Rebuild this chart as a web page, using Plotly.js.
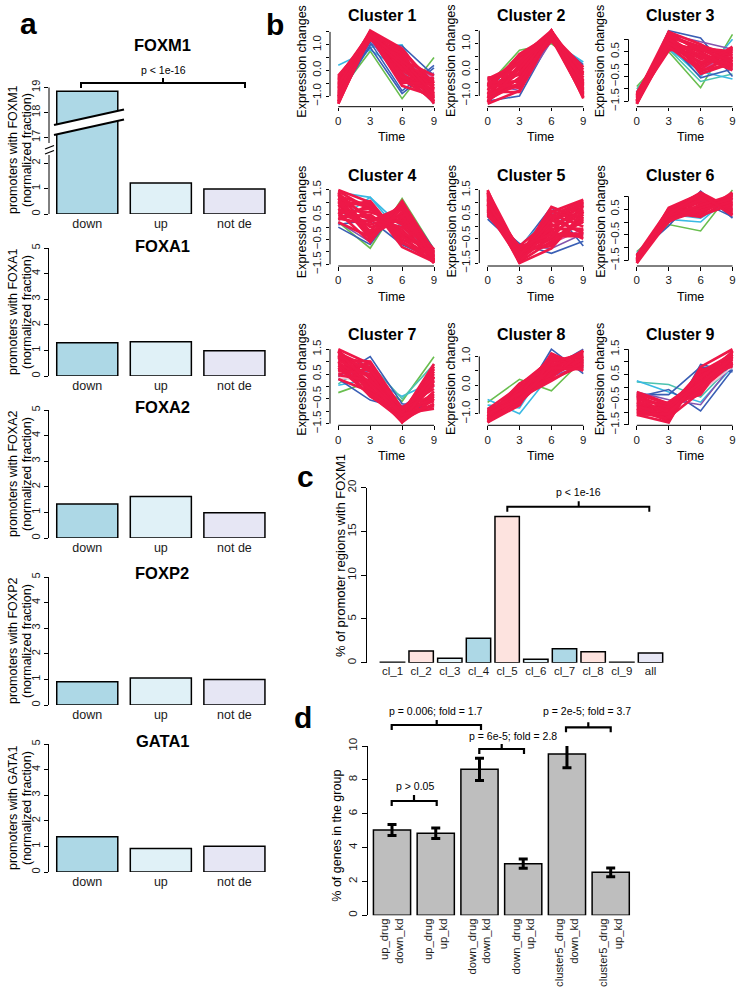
<!DOCTYPE html>
<html>
<head>
<meta charset="utf-8">
<script src="https://cdn.plot.ly/plotly-3.0.1.min.js"></script>
<style>
html,body{margin:0;padding:0;background:#ffffff;}
#chart{width:742px;height:990px;}
</style>
</head>
<body>
<div id="chart"></div>
<script>
// ================= DATA =================
// ---- panel a ----
const aGroups = ['down', 'up', 'not de'];
const foxm1 = [18.85, 1.22, 0.98];
const foxa1 = [1.30, 1.34, 0.99];
const foxa2 = [1.33, 1.62, 0.99];
const foxp2 = [0.91, 1.05, 1.00];
const gata1 = [1.38, 0.92, 1.01];

// ---- panel b (time course profiles: values at time 0,3,6,9) ----
const time = [0, 3, 6, 9];
const cl1_other = [[-0.9,0.75,-1.1,0.5],[0.2,0.8,0.0,-1.3],[-0.8,0.9,1.0,-1.2],[-1.1,1.0,0.95,-0.2],[-0.6,0.9,-0.9,0.1],[-1.0,1.1,-0.8,0.2],[-0.9,1.2,-0.5,-0.1],[-0.2,1.2,0.6,-0.3]];
const cl1_grp = 'gccbbbvm';
const cl1_red = [[-1.3,1.5,0.2,-1.2],[-1.2,1.4,0.8,-0.6],[-1.1,1.5,-0.4,-0.4],[-1.0,1.4,0.5,-1.0],[-0.9,1.45,0.0,-0.8],[-0.8,1.3,0.6,-1.3],[-0.7,1.5,-0.2,-0.6],[-0.6,1.4,0.3,-0.9],[-0.5,1.35,-0.5,-0.3],[-0.4,1.3,0.7,-1.1],[-0.3,1.45,0.1,-0.5],[-1.25,1.3,-0.3,-0.9],[-0.95,1.2,0.4,-0.2],[-0.65,1.55,0.85,-0.7],[-0.2,1.25,-0.1,-1.25],[-1.15,1.35,-0.6,-1.0],
  [-1.0,1.5,0.75,-0.5],[-0.85,1.35,-0.35,-1.15],[-0.45,1.5,0.5,-0.75],[-1.2,1.45,0.05,-0.35],[-0.75,1.25,0.25,-1.05],[-0.35,1.4,-0.25,-0.85],[-1.05,1.3,0.65,-1.2],[-0.55,1.45,-0.45,-0.55],[-0.25,1.35,0.45,-0.95],[-1.3,1.4,0.35,-0.45]];

const cl2_other = [[-0.6,0.75,1.0,0.1],[-0.3,-0.5,1.1,0.3],[-1.2,-1.0,1.2,0.2],[-0.9,-0.6,1.3,-1.0],[-0.5,-0.8,1.1,-0.2],[-0.4,0.2,1.4,-0.8],[-0.3,-0.1,1.2,-0.4]];
const cl2_grp = 'gcbbvmw';
const cl2_red = [[-1.3,-0.8,1.5,-1.1],[-1.2,-0.3,1.4,-0.5],[-1.1,0.5,1.3,-0.9],[-1.0,-0.6,1.5,-0.2],[-0.9,0.1,1.2,-1.0],[-0.8,0.6,1.35,-0.6],[-0.7,-0.4,1.45,-0.8],[-0.6,0.3,1.25,0.0],[-0.5,-0.7,1.5,-0.4],[-0.4,0.0,1.3,-1.05],[-0.3,-0.2,1.1,-0.3],[-1.25,0.2,1.4,-0.7],[-0.85,-0.85,1.35,0.1],[-0.55,0.45,1.5,-0.95],[-1.05,-0.1,1.2,-0.45],
  [-1.15,-0.5,1.3,-0.15],[-0.95,0.35,1.45,-0.55],[-0.75,-0.15,1.4,-1.05],[-0.65,0.55,1.2,-0.3],[-0.45,-0.45,1.3,-0.65],[-1.2,0.05,1.5,-0.85],[-0.35,0.25,1.45,-0.5],[-1.0,-0.35,1.25,-0.75],[-0.6,-0.6,1.4,-0.1]];

const cl3_other = [[-0.9,0.5,-0.95,1.2],[-1.0,0.6,-0.7,-0.4],[-1.2,0.7,-0.5,1.0],[-1.1,0.6,-0.3,-0.6],[-1.4,1.35,1.05,-0.5],[-1.3,0.9,-0.55,-0.2],[-1.4,1.2,0.9,0.6],[-1.5,1.0,-0.2,0.3]];
const cl3_grp = 'gtccbbvm';
const cl3_red = [[-1.6,1.3,0.8,0.1],[-1.55,1.1,0.2,0.5],[-1.5,0.9,0.5,-0.2],[-1.45,1.2,-0.3,0.3],[-1.4,0.7,0.6,0.0],[-1.35,1.0,0.0,0.4],[-1.3,0.6,0.4,-0.1],[-1.25,1.15,0.7,0.2],[-1.2,0.8,-0.1,0.7],[-1.15,0.95,0.3,-0.25],[-1.6,0.75,0.1,0.15],[-1.5,1.25,-0.4,0.05],[-1.4,0.55,0.75,0.35],
  [-1.55,0.85,0.55,0.45],[-1.45,1.05,-0.2,0.6],[-1.35,0.65,0.25,0.25],[-1.25,1.3,0.45,-0.15],[-1.5,0.7,-0.25,0.0],[-1.2,1.1,0.65,0.5],[-1.6,1.0,0.35,-0.05],[-1.3,0.85,0.05,0.65],[-1.45,1.15,0.6,0.1]];

const cl4_other = [[0.2,-0.85,1.15,-0.9],[0.3,1.2,-0.3,-0.9],[1.4,1.2,0.0,-1.1],[0.0,-0.7,1.0,-0.9],[0.1,0.3,-0.7,-1.3],[0.2,-0.6,0.9,-1.2]];
const cl4_grp = 'gccbbv';
const cl4_red = [[1.5,1.0,-0.6,-1.4],[1.3,-0.5,1.0,-1.2],[1.1,0.8,-0.3,-1.0],[0.9,-0.3,0.9,-1.45],[0.7,0.6,0.2,-1.1],[0.5,0.2,0.7,-1.3],[0.3,0.9,-0.8,-1.4],[1.4,-0.2,0.5,-0.9],[1.2,0.4,-0.1,-1.35],[0.8,1.05,-0.5,-1.2],[0.6,-0.6,1.05,-1.0],[1.0,0.0,0.3,-1.25],[0.4,0.5,-0.4,-0.95],[1.45,0.7,0.1,-1.4],[0.2,-0.4,0.6,-1.15],
  [1.35,0.25,0.8,-1.05],[1.15,-0.35,0.4,-1.3],[0.95,0.95,-0.65,-1.15],[0.75,-0.15,0.95,-1.4],[0.55,0.75,-0.2,-1.0],[0.35,0.1,0.45,-1.2],[1.25,0.85,-0.35,-1.45],[0.65,0.35,0.0,-0.9],[1.05,-0.45,0.75,-1.35]];

const cl5_other = [[0.3,-0.9,0.8,-0.8],[0.4,-0.7,-1.1,-0.6],[0.5,-0.8,-0.9,-0.3],[0.6,-1.0,-0.7,-0.1],[0.4,-0.8,0.5,0.9]];
const cl5_grp = 'bbvmc';
const cl5_red = [[1.5,-1.5,0.6,1.1],[1.4,-1.2,-0.5,0.2],[1.3,-1.4,0.2,0.8],[1.2,-1.0,-0.8,0.5],[1.1,-1.3,0.4,-0.3],[1.0,-0.9,-0.2,1.0],[0.9,-1.45,-0.6,0.4],[0.8,-1.1,0.5,0.0],[0.7,-1.2,0.0,0.7],[0.6,-1.35,-0.4,-0.4],[0.5,-0.8,0.3,0.9],[1.45,-1.05,-0.1,-0.1],[1.25,-1.25,0.8,0.3],[0.95,-1.5,-0.9,0.6],[0.45,-1.0,0.1,-0.5],
  [1.35,-1.35,0.35,0.95],[1.15,-1.15,-0.3,0.6],[1.05,-1.4,0.65,0.15],[0.85,-0.95,-0.45,0.85],[0.75,-1.3,0.25,-0.2],[0.65,-1.05,-0.7,0.3],[1.4,-1.45,0.0,0.65],[0.55,-1.2,0.45,1.05],[0.9,-0.85,-0.3,-0.3]];

const cl6_other = [[-1.15,-0.1,-0.35,1.25],[-1.2,0.1,0.0,1.1],[-1.3,0.3,0.15,0.9],[-1.25,-0.15,1.2,0.15],[-1.4,0.5,0.8,0.2],[-1.35,0.2,0.4,1.0]];
const cl6_grp = 'gccbbv';
const cl6_red = [[-1.55,0.55,1.1,0.3],[-1.5,0.3,0.9,0.6],[-1.45,0.1,1.0,0.4],[-1.4,0.45,0.5,1.0],[-1.35,0.0,0.7,0.8],[-1.3,0.5,0.3,1.1],[-1.5,0.2,0.6,0.9],[-1.45,0.4,1.15,0.5],[-1.55,0.25,0.4,1.05],[-1.4,0.05,0.85,0.7],[-1.35,0.35,0.2,0.95],[-1.6,0.5,0.95,0.65],[-1.3,0.15,1.05,0.35],
  [-1.5,0.45,0.75,0.75],[-1.45,0.2,0.35,1.15],[-1.4,0.35,1.05,0.45],[-1.35,0.1,0.55,0.9],[-1.55,0.4,0.85,0.55],[-1.3,0.25,0.65,1.05],[-1.6,0.05,0.45,0.8],[-1.45,0.5,0.25,0.7],[-1.4,0.3,1.1,0.25]];

const cl7_other = [[-0.25,0.2,-0.6,1.2],[0.05,0.3,-0.4,0.2],[0.1,0.9,-0.5,0.9],[0.4,1.2,-0.7,-0.9],[0.3,-0.55,-0.9,-0.8],[0.5,0.6,-0.8,0.0],[0.35,0.2,-1.0,0.3]];
const cl7_grp = 'gctbbvw';
const cl7_red = [[1.5,0.9,-1.45,-0.5],[1.4,-0.3,-1.3,0.8],[1.3,0.6,-1.1,-0.9],[1.2,0.0,-1.4,0.4],[1.1,1.0,-0.9,0.1],[1.0,-0.4,-1.2,-0.3],[0.9,0.4,-1.0,0.6],[0.8,0.8,-1.35,-0.7],[0.7,0.1,-0.85,-0.1],[0.5,0.7,-1.15,0.5],[0.3,-0.2,-1.25,-0.4],[1.45,0.3,-0.95,0.2],[1.15,-0.1,-1.45,0.7],[0.6,0.95,-1.05,-0.8],
  [1.35,0.75,-1.2,0.35],[1.25,-0.25,-1.0,-0.6],[1.05,0.45,-1.4,-0.2],[0.95,0.15,-1.1,0.9],[0.85,-0.1,-0.95,-0.5],[0.65,0.5,-1.3,0.05],[0.45,0.25,-1.05,0.4],[1.2,0.65,-0.9,-0.35],[0.75,-0.35,-1.35,0.25],[1.4,0.1,-1.15,-0.75]];

const cl8_other = [[-0.6,0.2,-0.2,0.9],[-0.5,-1.0,0.4,0.8],[-0.7,-0.8,0.9,0.6],[-0.8,-0.6,1.25,0.4],[-0.9,-0.2,0.6,1.25],[-0.85,-0.4,0.3,0.7]];
const cl8_grp = 'gccbbv';
const cl8_red = [[-1.3,-0.7,1.1,0.6],[-1.25,-0.3,0.6,1.2],[-1.2,0.0,0.9,0.8],[-1.15,-0.5,0.3,1.0],[-1.1,-0.2,1.0,0.5],[-1.05,-0.6,0.5,0.9],[-1.0,-0.1,0.8,1.1],[-0.95,-0.4,0.2,0.7],[-0.9,-0.65,0.7,1.15],[-1.3,-0.25,0.45,0.95],[-1.2,-0.55,0.95,0.65],[-0.85,-0.05,0.35,0.85],
  [-1.25,-0.45,0.75,0.75],[-1.15,-0.15,0.55,1.05],[-1.05,-0.35,1.05,0.7],[-0.95,-0.6,0.4,0.9],[-1.1,0.05,0.65,0.6],[-1.2,-0.65,0.85,1.0],[-0.9,-0.3,0.25,1.2],[-1.3,-0.45,0.15,0.8],[-1.0,-0.5,0.6,0.55]];

const cl9_other = [[0.2,0.1,-0.4,0.9],[0.25,-0.2,-0.6,0.8],[-0.4,-0.1,-0.95,0.7],[-0.7,-1.4,0.9,0.6],[-0.3,-0.3,0.8,0.65],[-0.2,-0.5,-0.7,0.9],[-0.5,-0.6,-0.2,0.8]];
const cl9_grp = 'tcbbbvw';
const cl9_red = [[-1.1,-1.4,0.8,1.5],[-1.0,-0.6,0.3,1.2],[-0.9,-1.2,-0.2,1.4],[-0.8,-0.8,0.6,0.9],[-0.7,-1.0,0.0,1.3],[-0.6,-1.3,0.5,1.0],[-0.5,-0.7,-0.3,1.45],[-0.4,-1.1,0.7,0.8],[-0.3,-0.9,0.2,1.1],[-0.2,-0.65,0.4,1.35],[-1.05,-0.85,-0.1,0.95],[-0.85,-1.35,0.55,1.25],
  [-1.0,-1.25,0.45,1.1],[-0.9,-0.75,0.1,1.3],[-0.75,-1.15,0.65,1.0],[-0.65,-0.9,-0.15,1.2],[-0.55,-1.0,0.35,1.4],[-0.45,-0.8,0.05,0.95],[-0.35,-1.2,0.6,1.3],[-1.1,-1.05,0.25,0.85],[-0.25,-0.7,0.15,1.15]];

const clusterNames = ['Cluster 1','Cluster 2','Cluster 3','Cluster 4','Cluster 5','Cluster 6','Cluster 7','Cluster 8','Cluster 9'];
const clusterTicks = [
  [-1,-0.5,0,0.5,1,1.5], [-1,-0.5,0,0.5,1,1.5], [-1.5,-1,-0.5,0,0.5,1],
  [-1.5,-1,-0.5,0,0.5,1,1.5], [-1.5,-1,-0.5,0,0.5,1,1.5], [-1.5,-1,-0.5,0,0.5,1],
  [-1.5,-1,-0.5,0,0.5,1,1.5], [-1,-0.5,0,0.5,1], [-1.5,-1,-0.5,0,0.5,1,1.5]
];
const clusterTickLabels = [
  [-1,0,1], [-1,0,1], [-1.5,-0.5,0.5],
  [-1.5,-0.5,0.5,1.5], [-1.5,-0.5,0.5,1.5], [-1.5,-0.5,0.5],
  [-1.5,-0.5,0.5,1.5], [-1,0,1], [-1.5,-0.5,0.5,1.5]
];

// ---- panel c ----
const cCats = ['cl_1','cl_2','cl_3','cl_4','cl_5','cl_6','cl_7','cl_8','cl_9','all'];
const cValues = [0.04, 1.35, 0.5, 2.8, 16.7, 0.4, 1.6, 1.25, 0.04, 1.1];

// ---- panel d ----
const dCats = ['up_drug<br>down_kd','up_drug<br>up_kd','down_drug<br>down_kd','down_drug<br>up_kd','cluster5_drug<br>down_kd','cluster5_drug<br>up_kd'];
const dValues = [5.04, 4.84, 8.62, 3.05, 9.53, 2.54];
const dErrors = [0.33, 0.31, 0.66, 0.27, 0.82, 0.26];

// ================= BUILD =================
const FONT = '"Liberation Sans", Arial, Helvetica, sans-serif';
const W = 742, H = 990;
const fx = p => p / W;
const fy = p => 1 - p / H;
const tf = s => ({family: FONT, size: s, color: '#1a1a1a'});
const fmt = v => (v < 0 ? '\u2212' : '') + Math.abs(v).toFixed(1);

const traces = [];
const layout = {
  width: W, height: H, margin: {l: 0, r: 0, t: 0, b: 0},
  paper_bgcolor: '#ffffff', plot_bgcolor: 'rgba(0,0,0,0)',
  showlegend: false, font: {family: FONT, size: 12, color: '#000'},
  shapes: [], annotations: []
};
const BASE = {showgrid: false, zeroline: false, showline: false, ticks: '', fixedrange: true,
  linecolor: '#000', linewidth: 1, tickcolor: '#000', tickwidth: 1, ticklen: 5};
let nAx = 0;
function newAxes(xDomPx, yDomPx, xOpts, yOpts) {
  nAx++;
  const s = nAx === 1 ? '' : String(nAx);
  layout['xaxis' + s] = Object.assign({}, BASE, {domain: [fx(xDomPx[0]), fx(xDomPx[1])], anchor: 'y' + s}, xOpts);
  layout['yaxis' + s] = Object.assign({}, BASE, {domain: [fy(yDomPx[1]), fy(yDomPx[0])], anchor: 'x' + s}, yOpts);
  return {x: 'x' + s, y: 'y' + s};
}
function txt(x, y, text, size, extra) {
  layout.annotations.push(Object.assign({xref: 'paper', yref: 'paper', x: fx(x), y: fy(y), text: text,
    showarrow: false, xanchor: 'center', yanchor: 'middle', font: {family: FONT, size: size, color: '#000'}}, extra || {}));
}
function seg(x0, y0, x1, y1, w) {
  layout.shapes.push({type: 'line', xref: 'paper', yref: 'paper', x0: fx(x0), y0: fy(y0), x1: fx(x1), y1: fy(y1),
    line: {color: '#000', width: w || 1}});
}
function bracket(x0, x1, y, drop, xm, rise, w) {
  const p = 'M' + fx(x0) + ',' + fy(y + drop) + ' L' + fx(x0) + ',' + fy(y) + ' L' + fx(x1) + ',' + fy(y) +
    ' L' + fx(x1) + ',' + fy(y + drop) + ' M' + fx(xm) + ',' + fy(y) + ' L' + fx(xm) + ',' + fy(y - rise);
  layout.shapes.push({type: 'path', xref: 'paper', yref: 'paper', path: p, line: {color: '#000', width: w || 2}});
}
const bold = s => ({family: FONT, size: s, color: '#000', weight: 'bold'});

// ---------- panel a ----------
const aColors = ['#ADD8E6', '#E0F1F7', '#E6E6F4'];
const aXdom = [49, 271.2], aXrange = [-0.52, 2.5];
function aBars(ax, vals) {
  traces.push({type: 'bar', x: aGroups, y: vals, xaxis: ax.x, yaxis: ax.y, width: 0.83,
    marker: {color: aColors, line: {color: '#000', width: 1.5}}, hoverinfo: 'skip', showlegend: false});
}
function xCatA(extra) {
  return Object.assign({type: 'category', range: aXrange, tickangle: 0, tickfont: tf(12.5)}, extra || {});
}
// FOXM1 with broken axis: lower part and upper part
let ax = newAxes(aXdom, [150, 214], xCatA(),
  {range: [0, 64 / 25.5], tickvals: [0, 1, 2], ticks: 'outside', ticklen: 4, tickangle: -90, tickfont: tf(11)});
aBars(ax, foxm1);
ax = newAxes(aXdom, [84, 150], xCatA({showticklabels: false}),
  {range: [16.5, 19.14], tickvals: [17, 18, 19], ticks: 'outside', ticklen: 4, tickangle: -90, tickfont: tf(11)});
aBars(ax, foxm1);
// axis lines + break marks
seg(49, 214, 49, 155);
seg(49, 143, 49, 87.5);
seg(45, 149, 54, 145.5, 1.3);
seg(45, 154, 54, 150.5, 1.3);
// break on the bar
layout.shapes.push({type: 'path', xref: 'paper', yref: 'paper',
  path: 'M' + fx(54) + ',' + fy(125) + ' L' + fx(124) + ',' + fy(109.5) + ' L' + fx(124) + ',' + fy(119.5) + ' L' + fx(54) + ',' + fy(135) + ' Z',
  fillcolor: '#ffffff', line: {width: 0}});
seg(54, 125, 124, 109.5, 2.2);
seg(54, 135, 124, 119.5, 2.2);
bracket(81, 245, 83, 5, 163, 5, 2);
txt(163, 70, 'p < 1e-16', 10.5);
txt(162, 45, 'FOXM1', 16.5, {font: bold(16.5)});
txt(13, 150, 'promoters with FOXM1', 12.5, {textangle: -90});
txt(27, 150, '(normalized fraction)', 12.5, {textangle: -90});

const aPanels = [
  {name: 'FOXA1', vals: foxa1, top: 248, bot: 376, title: 246},
  {name: 'FOXA2', vals: foxa2, top: 410, bot: 538, title: 407},
  {name: 'FOXP2', vals: foxp2, top: 577, bot: 705, title: 573},
  {name: 'GATA1', vals: gata1, top: 744, bot: 872, title: 741}
];
aPanels.forEach(p => {
  const a = newAxes(aXdom, [p.top, p.bot], xCatA(),
    {range: [0, 5], tickvals: [0, 1, 2, 3, 4, 5], showline: true, ticks: 'outside', ticklen: 4, tickangle: -90, tickfont: tf(11)});
  aBars(a, p.vals);
  txt(162, p.title, p.name, 16.5, {font: bold(16.5)});
  const c = (p.top + p.bot) / 2;
  txt(13, c, 'promoters with ' + p.name, 12.5, {textangle: -90});
  txt(27, c, '(normalized fraction)', 12.5, {textangle: -90});
});

// ---------- panel b ----------
const memberColors = {g: '#69BE4F', t: '#4DC3B0', c: '#39B9E3', b: '#3A5FB5', v: '#8454AE', m: '#D9469A', w: '#F2C4D6'};
const redColor = '#EE1848';
const clusters = [
  [cl1_other, cl1_grp, cl1_red], [cl2_other, cl2_grp, cl2_red], [cl3_other, cl3_grp, cl3_red],
  [cl4_other, cl4_grp, cl4_red], [cl5_other, cl5_grp, cl5_red], [cl6_other, cl6_grp, cl6_red],
  [cl7_other, cl7_grp, cl7_red], [cl8_other, cl8_grp, cl8_red], [cl9_other, cl9_grp, cl9_red]
];
const colA = [330, 479.3, 628.5];
const rowB = [106.7, 266, 425.3];
const titleX = [382.5, 531.7, 680.5], titleY = [15.5, 175, 334.5];
const timeX = [391.7, 540.9, 690], timeY = [136.7, 296.5, 456];
const exprX = [301.7, 451, 600.3], exprY = [61, 221.5, 379];
const unit = 95.7 / 9, plotH = 79;
clusters.forEach((cl, i) => {
  const col = i % 3, row = Math.floor(i / 3);
  const A = colA[col], B = rowB[row];
  const other = cl[0], grp = cl[1], red = cl[2];
  const all = other.concat(red).reduce((acc, r) => acc.concat(r), []);
  const mn = Math.min.apply(null, all), mx = Math.max.apply(null, all);
  const pad = 0.04 * (mx - mn);
  const yr = [mn - pad, mx + pad];
  const ticks = clusterTicks[i], labs = clusterTickLabels[i];
  const a = newAxes([A, A + 8.3 + 95.7 + 4], [B - plotH, B],
    {range: [-8.3 / unit, 9 + 4 / unit], tickvals: time, ticktext: time.map(String), ticks: 'outside', ticklen: 3.5, tickfont: tf(11.5)},
    {range: yr, tickvals: ticks, ticktext: ticks.map(v => labs.indexOf(v) >= 0 ? fmt(v) : ''), ticks: 'outside', ticklen: 3.5, tickangle: -90, tickfont: tf(11.5)});
  other.forEach((prof, k) => {
    traces.push({type: 'scatter', mode: 'lines', x: time, y: prof, xaxis: a.x, yaxis: a.y,
      line: {color: memberColors[grp[k]], width: 1.6}, hoverinfo: 'skip', showlegend: false});
  });
  red.forEach(prof => {
    traces.push({type: 'scatter', mode: 'lines', x: time, y: prof, xaxis: a.x, yaxis: a.y,
      line: {color: redColor, width: 2.7}, hoverinfo: 'skip', showlegend: false});
  });
  // R-style axis lines spanning the tick range only
  seg(A + 8.3, B, A + 8.3 + 95.7, B);
  const toPx = v => B - (v - yr[0]) / (yr[1] - yr[0]) * plotH;
  seg(A, toPx(ticks[0]), A, toPx(ticks[ticks.length - 1]));
  txt(titleX[col], titleY[row], clusterNames[i], 16, {font: bold(16)});
  txt(timeX[col], timeY[row], 'Time', 12.5);
  txt(exprX[col], exprY[row], 'Expression changes', 12.5, {textangle: -90});
});

// ---------- panel c ----------
const cColors = ['#E0F1F7', '#FDE3DF', '#E0F1F7', '#ADD8E6', '#FDE3DF', '#E0F1F7', '#ADD8E6', '#FDE3DF', '#E0F1F7', '#E6E6F4'];
ax = newAxes([367, 665], [487.7, 662.7],
  {type: 'category', range: [-0.889, 9.506], tickangle: 0, tickfont: tf(11.5)},
  {range: [0, 20], tickvals: [0, 5, 10, 15, 20], showline: true, ticks: 'outside', ticklen: 5, tickangle: -90, tickfont: tf(11.5)});
traces.push({type: 'bar', x: cCats, y: cValues, xaxis: ax.x, yaxis: ax.y, width: 0.85,
  marker: {color: cColors, line: {color: '#000', width: 1.5}}, hoverinfo: 'skip', showlegend: false});
bracket(507.3, 649.3, 506.7, 5, 578.7, 5.5, 2);
txt(578.7, 491.7, 'p < 1e-16', 10.5);
txt(340, 556, '% of promoter regions with FOXM1', 13, {textangle: -90});

// ---------- panel d ----------
ax = newAxes([368, 632], [746, 915.3],
  {type: 'category', range: [-0.549, 5.487], tickangle: -90, tickfont: tf(11.3)},
  {range: [0, 10], tickvals: [0, 2, 4, 6, 8, 10], showline: true, ticks: 'outside', ticklen: 5, tickangle: -90, tickfont: tf(11.5)});
traces.push({type: 'bar', x: dCats, y: dValues, xaxis: ax.x, yaxis: ax.y, width: 0.85,
  marker: {color: '#BEBEBE', line: {color: '#000', width: 1.5}},
  error_y: {type: 'data', array: dErrors, visible: true, color: '#000', thickness: 3, width: 4.5},
  hoverinfo: 'skip', showlegend: false});
bracket(391.7, 436.7, 801, 5, 414, 6, 2.2);
txt(415, 785.5, 'p > 0.05', 10.5);
bracket(391.7, 481, 725, 5, 436.7, 5, 2.2);
txt(436, 710.7, 'p = 0.006; fold = 1.7', 10.5);
bracket(479.3, 524, 749, 5, 501.7, 5, 2.2);
txt(513.3, 736.3, 'p = 6e-5; fold = 2.8', 10.5);
bracket(566, 610.7, 727.3, 5, 588.3, 5, 2.2);
txt(587.3, 710.7, 'p = 2e-5; fold = 3.7', 10.5);
txt(336.7, 836, '% of genes in the group', 12.5, {textangle: -90});

// ---------- panel letters ----------
txt(28.5, 23.5, 'a', 30, {font: bold(30)});
txt(275, 24.5, 'b', 30, {font: bold(30)});
txt(305, 476, 'c', 30, {font: bold(30)});
txt(302.5, 717, 'd', 30, {font: bold(30)});

Plotly.newPlot('chart', traces, layout, {staticPlot: true, displayModeBar: false});
</script>
</body>
</html>
